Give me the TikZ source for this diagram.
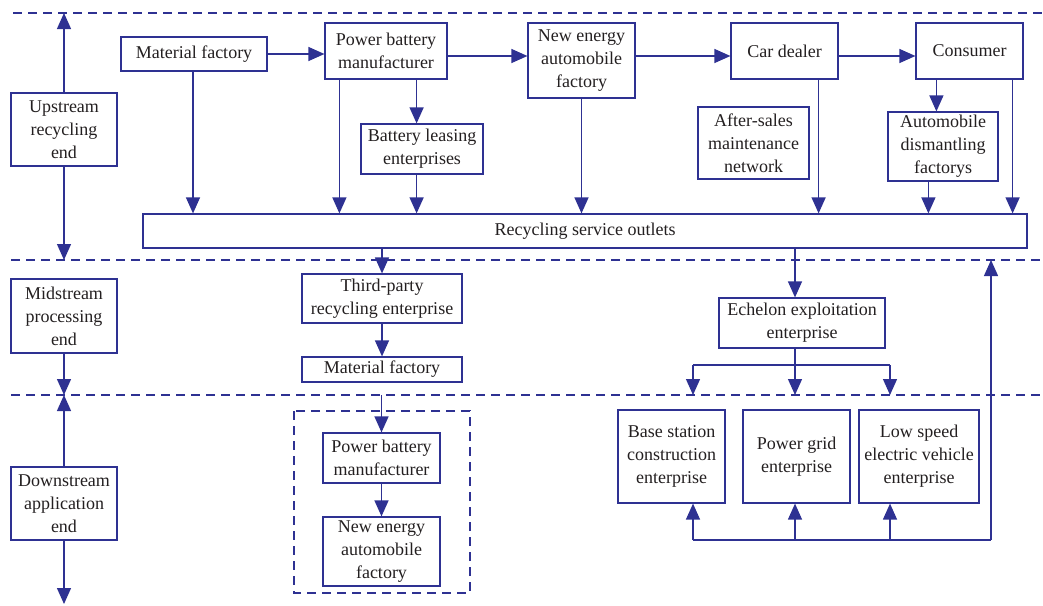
\documentclass[tikz,border=0pt]{standalone}
\usepackage{fontspec}
\setmainfont{Liberation Serif}
\usetikzlibrary{arrows.meta,calc}
\definecolor{lc}{RGB}{46,49,146}
\definecolor{tc}{RGB}{35,31,32}
\begin{document}
\begin{tikzpicture}[x=1pt,y=-1pt,
  box/.style={draw=lc,line width=1.2pt,inner sep=0pt,align=center,text=tc,
    font=\fontsize{18}{23}\selectfont},
  arr/.style={draw=lc,line width=1.3pt,-{Triangle[length=16pt,width=14pt]}},
  ln/.style={draw=lc,line width=1.3pt},
  dline/.style={draw=lc,line width=1.2pt,dash pattern=on 9pt off 6pt}]
\useasboundingbox (0,0) rectangle (1043,605);
% level coordinates
\coordinate (d1) at (0,13);
\coordinate (d2) at (0,260);
\coordinate (d3) at (0,395);
\coordinate (d4) at (0,604);
\coordinate (b1) at (0,540);
\coordinate (ka) at (693,365);
\coordinate (kb) at (795,365);
\coordinate (kc) at (890,365);
\coordinate (kr) at (991,365);
% dashed separators
\draw[dline] (13,13) -- (1043,13);
\draw[dline] (11,260) -- (1043,260);
\draw[dline] (11,395) -- (1043,395);
% left column
\node[box,minimum width=106pt,minimum height=73pt] (up) at (64,129.5) {Upstream\\recycling\\end};
\node[box,minimum width=106pt,minimum height=74pt] (mid) at (64,316) {Midstream\\processing\\end};
\node[box,minimum width=106pt,minimum height=73pt] (down) at (64,503.5) {Downstream\\application\\end};
\draw[arr] (up.north) -- (up.north |- d1);
\draw[arr] (up.south) -- (up.south |- d2);
\draw[arr] (mid.south) -- (mid.south |- d3);
\draw[arr] (down.north) -- (down.north |- d3);
\draw[arr] (down.south) -- (down.south |- d4);
% top row
\node[box,minimum width=146pt,minimum height=34pt] (mf1) at (194,54) {Material factory};
\node[box,minimum width=122pt,minimum height=56pt] (pb1) at (386,51) {Power battery\\manufacturer};
\node[box,minimum width=107pt,minimum height=75pt] (neaf1) at (581.5,60.5) {New energy\\automobile\\factory};
\node[box,minimum width=107pt,minimum height=56pt] (cd) at (784.5,51) {Car dealer};
\node[box,minimum width=107pt,minimum height=56pt] (cons) at (969.5,51) {Consumer};
\node[box,minimum width=122pt,minimum height=50pt] (bl) at (422,149) {Battery leasing\\enterprises};
\node[box,minimum width=111pt,minimum height=72pt] (asm) at (753.5,143) {After-sales\\maintenance\\network};
\node[box,minimum width=110pt,minimum height=69pt] (adf) at (943,146.5) {Automobile\\dismantling\\factorys};
\node[box,minimum width=884pt,minimum height=34pt] (ros) at (585,231) {Recycling service outlets};
% horizontal flow
\coordinate (h1) at ([yshift=-5pt]pb1.east);
\draw[arr] (mf1.east) -- (mf1.east -| pb1.west);
\draw[arr] (h1) -- (h1 -| neaf1.west);
\draw[arr] (neaf1.east |- h1) -- (cd.west |- h1);
\draw[arr] (cd.east |- h1) -- (cons.west |- h1);
% down to recycling outlets
\coordinate (pbL) at ([xshift=15pt]pb1.south west);
\coordinate (pbR) at ([xshift=-31pt]pb1.south east);
\coordinate (cdR) at ([xshift=-20pt]cd.south east);
\coordinate (coL) at ([xshift=21pt]cons.south west);
\coordinate (coR) at ([xshift=-11pt]cons.south east);
\coordinate (adL) at ([xshift=41pt]adf.south west);
\coordinate (mfD) at ([xshift=-1pt]mf1.south);
\draw[arr] (mfD) -- (mfD |- ros.north);
\draw[arr] (pbL) -- (pbL |- ros.north);
\draw[arr] (pbR) -- (pbR |- bl.north);
\draw[arr] (pbR |- bl.south) -- (pbR |- ros.north);
\draw[arr] (neaf1.south) -- (neaf1.south |- ros.north);
\draw[arr] (cdR) -- (cdR |- ros.north);
\draw[arr] (coL) -- (coL |- adf.north);
\draw[arr] (adL) -- (adL |- ros.north);
\draw[arr] (coR) -- (coR |- ros.north);
% midstream
\node[box,minimum width=160pt,minimum height=49pt] (tp) at (382,298.5) {Third-party\\recycling enterprise};
\node[box,minimum width=160pt,minimum height=25pt] (mf2) at (382,369.5) {Material factory};
\node[box,minimum width=166pt,minimum height=50pt] (ech) at (802,323) {Echelon exploitation\\enterprise};
\draw[arr] (tp.north |- ros.south) -- (tp.north);
\draw[arr] (tp.south) -- (mf2.north);
\draw[arr] (kb |- ros.south) -- (kb |- ech.north);
\draw[ln] (kb |- ech.south) -- (kb);
\draw[ln] (ka) -- (kc);
\draw[arr] (ka) -- (ka |- d3);
\draw[arr] (kb) -- (kb |- d3);
\draw[arr] (kc) -- (kc |- d3);
% downstream
\draw[dline] (294,411) rectangle (470,593);
\node[box,minimum width=117pt,minimum height=50pt] (pb2) at (381.5,458) {Power battery\\manufacturer};
\node[box,minimum width=117pt,minimum height=69pt] (neaf2) at (381.5,551.5) {New energy\\automobile\\factory};
\draw[arr] (pb2.north |- d3) -- (pb2.north);
\draw[arr] (pb2.south) -- (neaf2.north);
\node[box,minimum width=107pt,minimum height=93pt] (bs) at (671.5,456.5) {Base station\\construction\\enterprise};
\node[box,minimum width=107pt,minimum height=93pt] (pg) at (796.5,456.5) {Power grid\\enterprise};
\node[box,minimum width=120pt,minimum height=93pt] (ls) at (919,456.5) {Low speed\\electric vehicle\\enterprise};
\draw[ln] (ka |- b1) -- (kr |- b1);
\draw[arr] (ka |- b1) -- (ka |- bs.south);
\draw[arr] (kb |- b1) -- (kb |- pg.south);
\draw[arr] (kc |- b1) -- (kc |- ls.south);
\draw[arr] (kr |- b1) -- (kr |- d2);
\end{tikzpicture}
\end{document}
